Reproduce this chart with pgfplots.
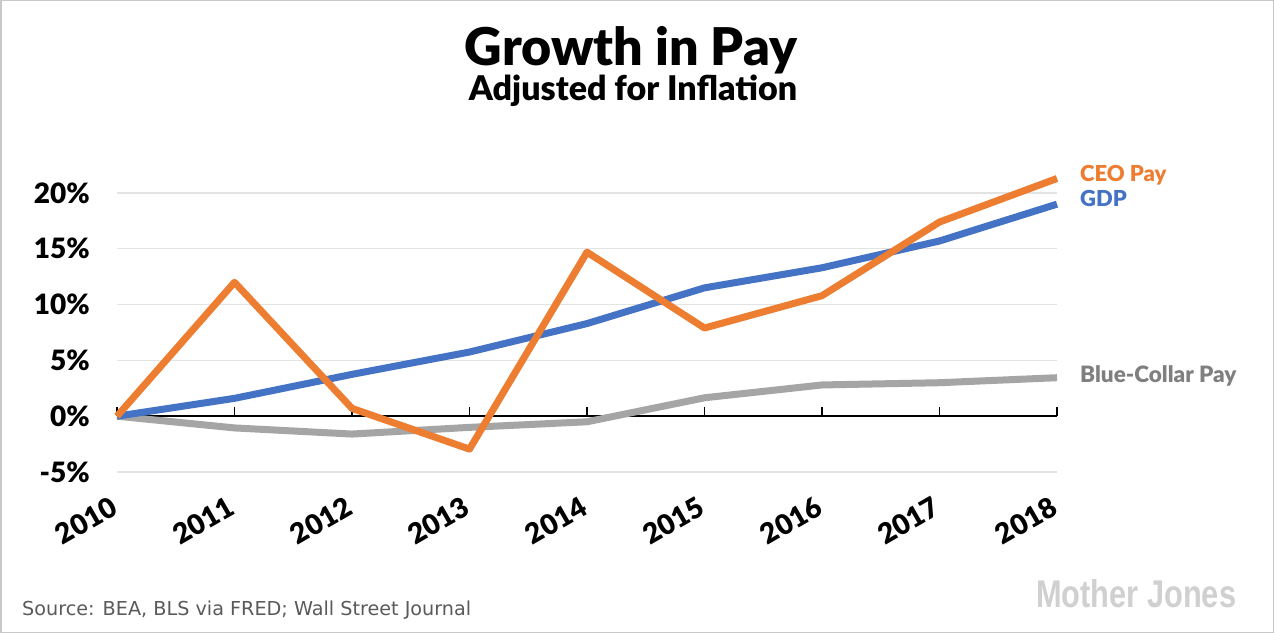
\documentclass[border=0pt]{standalone}
\usepackage{fontspec}
\setmainfont{Lato}[BoldFont={Lato Black}]
\newfontfamily\srcfont{DejaVu Sans}
\newfontfamily\logofont{Liberation Sans}
\usepackage{pgfplots}
\pgfplotsset{compat=1.18}

\definecolor{ceo}{HTML}{ED7D31}
\definecolor{gdp}{HTML}{4472C4}
\definecolor{blue collar}{HTML}{A5A5A5}
\definecolor{bclabel}{HTML}{7F7F7F}
\definecolor{gridc}{HTML}{E3E3E3}
\definecolor{framec}{HTML}{C8C8C8}
\definecolor{srcc}{HTML}{5A5A5A}
\definecolor{logoc}{HTML}{D0D0D0}

\begin{document}
\begin{tikzpicture}[x=1pt,y=1pt]
\fill[white] (0,0) rectangle (1274,633);
\draw[framec, line width=1.5pt] (0.75,0.75) rectangle (1273.25,632.25);

\node[anchor=base, inner sep=0pt, font=\bfseries\fontsize{52}{52}\selectfont] at (631,567) {Growth in Pay};
\node[anchor=base, inner sep=0pt, font=\bfseries\fontsize{34}{34}\selectfont] at (633,532) {Adjusted for Inflation};

\begin{axis}[
  at={(117pt,161pt)}, anchor=south west,
  scale only axis, width=940pt, height=279pt,
  xmin=2010, xmax=2018, ymin=-5, ymax=20,
  clip=false,
  axis line style={draw=none},
  major tick length=0pt,
  xtick={2010,2011,2012,2013,2014,2015,2016,2017,2018},
  xticklabels={2010,2011,2012,2013,2014,2015,2016,2017,2018},
  ytick={-5,0,5,10,15,20},
  yticklabels={-5\%,0\%,5\%,10\%,15\%,20\%},
  ymajorgrids,
  grid style={gridc, line width=1.2pt},
  ticklabel style={font=\bfseries\fontsize{28}{28}\selectfont, inner sep=0pt},
  yticklabel style={anchor=east, xshift=-27pt},
  xticklabel style={xshift=-8pt, yshift=-23pt, rotate=30, anchor=north east},
]
\draw[black, line width=1.5pt] (axis cs:2010,0) -- (axis cs:2018,0);
\pgfplotsinvokeforeach{2010,2011,2012,2013,2014,2015,2016,2017,2018}{
  \draw[black, line width=1.5pt] (axis cs:#1,0) -- ++(0pt,9pt);
}
% Blue-collar pay
\addplot[blue collar, line width=7pt, line join=round] coordinates {
  (2010,0) (2011,-1.05) (2012,-1.6) (2013,-1.0) (2014,-0.5)
  (2015,1.65) (2016,2.8) (2017,3.0) (2018,3.45)
};
% GDP
\addplot[gdp, line width=7pt, line join=round] coordinates {
  (2010,0) (2011,1.6) (2012,3.75) (2013,5.75) (2014,8.3)
  (2015,11.5) (2016,13.3) (2017,15.7) (2018,19.0)
};
% CEO pay
\addplot[ceo, line width=7pt, line join=round] coordinates {
  (2010,0) (2011,12.0) (2012,0.7) (2013,-2.95) (2014,14.7)
  (2015,7.9) (2016,10.8) (2017,17.4) (2018,21.3)
};
\end{axis}

\node[anchor=base west, inner sep=0pt, ceo, font=\bfseries\fontsize{22}{22}\selectfont] at (1080,451) {CEO Pay};
\node[anchor=base west, inner sep=0pt, gdp, font=\bfseries\fontsize{22}{22}\selectfont] at (1080,426) {GDP};
\node[anchor=base west, inner sep=0pt, bclabel, font=\bfseries\fontsize{22.5}{22.5}\selectfont] at (1080,251) {Blue-Collar Pay};

\node[anchor=base west, inner sep=0pt, srcc, font=\srcfont\fontsize{19.2}{19.2}\selectfont] at (22,18) {Source: BEA, BLS via FRED; Wall Street Journal};
\node[anchor=base west, inner sep=0pt, logoc] at (1036,26) {\resizebox{200pt}{28pt}{\logofont\bfseries Mother Jones}};
\end{tikzpicture}
\end{document}
